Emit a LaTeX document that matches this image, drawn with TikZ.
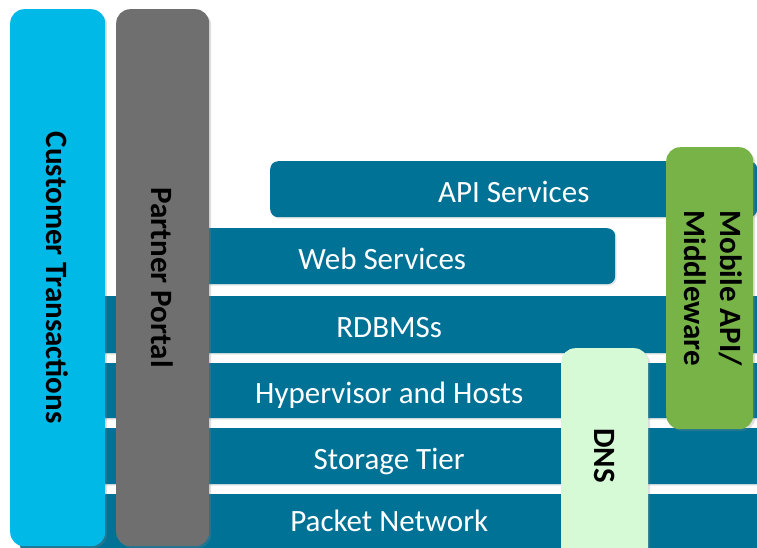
\documentclass[tikz,border=0pt]{standalone}
\usepackage{fontspec}
\setmainfont{Carlito}
\usetikzlibrary{shadows}
\definecolor{layerteal}{RGB}{0,114,150}
\definecolor{custcyan}{RGB}{0,185,231}
\definecolor{portalgray}{RGB}{111,111,111}
\definecolor{mobilegreen}{RGB}{119,179,71}
\definecolor{dnsgreen}{RGB}{214,250,214}
\tikzset{
  layer/.style={fill=layerteal, rounded corners=8pt, inner sep=0pt, anchor=north west,
    text=white, font=\fontsize{31}{37}\selectfont, text height=26pt, text depth=0pt,
    drop shadow={opacity=0.2, shadow xshift=1.5pt, shadow yshift=-1.5pt}},
  column/.style={rounded corners=14pt, inner sep=0pt, anchor=north west,
    text=black, font=\fontsize{31}{36}\selectfont\bfseries,
    drop shadow={opacity=0.25, shadow xshift=2pt, shadow yshift=-2pt}}
}
% full-width layers run off the right edge; shift their label back
\newcommand{\wide}[1]{\hspace*{-32pt}#1}
\begin{document}
\begin{tikzpicture}[x=1pt, y=-1pt]
    \useasboundingbox (0,0) rectangle (757,547);
    \clip (0,0) rectangle (757,547);
    % Layers
    \node[layer, minimum width=770pt, minimum height=60pt, text height=14pt] (packet) at (20,494) {\wide{Packet Network}};
    \node[layer, minimum width=770pt, minimum height=56pt] (storage) at (20,428) {\wide{Storage Tier}};
    \node[layer, minimum width=770pt, minimum height=55pt] (hyper) at (20,363) {\wide{Hypervisor and Hosts}};
    \node[layer, minimum width=770pt, minimum height=57pt] (rdbms) at (20,296) {\wide{RDBMSs}};
    \node[layer, minimum width=466pt, minimum height=56pt] (web) at (149,228) {Web Services};
    \node[layer, minimum width=487pt, minimum height=56pt] (api) at (270,161) {API Services};
    % Columns
    \node[column, fill=custcyan, minimum width=95pt, minimum height=537pt] (cust) at (10,9)
        {\rotatebox{-90}{Customer Transactions}};
    \node[column, fill=portalgray, minimum width=93pt, minimum height=537pt] (portal) at (116,9)
        {\rotatebox{-90}{Partner Portal}};
    \node[column, fill=mobilegreen, minimum width=87pt, minimum height=282pt] (mobile) at (666,147)
        {\rotatebox{-90}{\begin{tabular}{@{}l@{}}Mobile API/\\Middleware\end{tabular}}};
    \node[column, fill=dnsgreen, minimum width=87pt, minimum height=215pt] (dns) at (561,348)
        {\rotatebox{-90}{DNS}};
\end{tikzpicture}
\end{document}
